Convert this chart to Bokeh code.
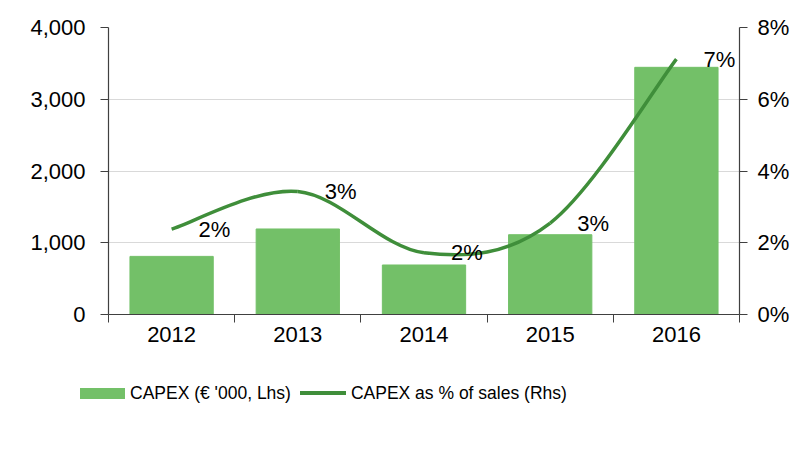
import numpy as np
from bokeh.plotting import figure
from bokeh.layouts import column
from bokeh.models import (Range1d, LinearAxis, FixedTicker, NumeralTickFormatter,
                          PrintfTickFormatter, Div)
from bokeh.core.properties import value
from bokeh.embed import file_html
from bokeh.resources import INLINE

years = [2012, 2013, 2014, 2015, 2016]
year_labels = ["2012", "2013", "2014", "2015", "2016"]
capex = [810, 1192, 690, 1112, 3445]
capex_pct = [2.38, 3.43, 1.72, 2.55, 7.12]
pct_labels = ["2%", "3%", "2%", "3%", "7%"]
left_ticks = [0, 1000, 2000, 3000, 4000]
right_ticks = [0, 2, 4, 6, 8]
series_names = ["CAPEX (€ '000, Lhs)", "CAPEX as % of sales (Rhs)"]

FONT = "Liberation Sans"
BAR = "#73C068"
LINE = "#3F8E3A"
AX = "#404040"
TICK_FS = "22px"

p = figure(width=792, height=360, output_backend="svg", toolbar_location=None,
           x_range=Range1d(years[0] - 0.5, years[-1] + 0.5),
           y_range=Range1d(0, 4000),
           min_border_left=108, min_border_right=51, min_border_top=27,
           min_border_bottom=46)
p.outline_line_color = None
p.background_fill_color = "white"
p.extra_y_ranges = {"pct": Range1d(0, 8)}

# bars
p.vbar(x=years, top=capex, width=0.66, fill_color=BAR, line_color=BAR)

# smoothed line (Catmull-Rom style Bezier through the data points)
x = np.array(years, dtype=float)
y = np.array(capex_pct, dtype=float)
xp = np.concatenate([[x[0]], x, [x[-1]]])
yp = np.concatenate([[y[0]], y, [y[-1]]])
cx0 = x[:-1] + (xp[2:-1] - xp[:-3]) / 6
cy0 = y[:-1] + (yp[2:-1] - yp[:-3]) / 6
cx1 = x[1:] - (xp[3:] - xp[1:-2]) / 6
cy1 = y[1:] - (yp[3:] - yp[1:-2]) / 6
p.bezier(x0=x[:-1], y0=y[:-1], x1=x[1:], y1=y[1:],
         cx0=cx0, cy0=cy0, cx1=cx1, cy1=cy1,
         line_color=LINE, line_width=3.5, y_range_name="pct")

# data labels
p.text(x=years, y=capex_pct, text=pct_labels, y_range_name="pct",
       x_offset=27, text_align="left", text_baseline="middle",
       text_font=value(FONT), text_font_size=TICK_FS, text_color="#000000")

# axes
p.xaxis.ticker = FixedTicker(ticks=years,
                             minor_ticks=[v - 0.5 for v in years] + [years[-1] + 0.5])
p.xaxis.major_label_overrides = {yr: lab for yr, lab in zip(years, year_labels)}
p.xaxis.major_tick_out = 0
p.xaxis.major_tick_in = 0
p.xaxis.minor_tick_out = 8
p.xaxis.minor_tick_in = 0
p.xaxis.major_label_standoff = 4

p.yaxis.ticker = FixedTicker(ticks=left_ticks)
p.yaxis.formatter = NumeralTickFormatter(format="0,0")
p.yaxis.major_tick_out = 8
p.yaxis.major_tick_in = 0
p.yaxis.minor_tick_out = 0
p.yaxis.minor_tick_in = 0
p.yaxis.major_label_standoff = 15

raxis = LinearAxis(y_range_name="pct", ticker=FixedTicker(ticks=right_ticks),
                   formatter=PrintfTickFormatter(format="%d%%"))
raxis.major_tick_out = 8
raxis.major_tick_in = 0
raxis.minor_tick_out = 0
raxis.minor_tick_in = 0
raxis.major_label_standoff = 10
p.add_layout(raxis, "right")

for ax in [p.xaxis[0], p.yaxis[0], raxis]:
    ax.axis_line_color = AX
    ax.axis_line_width = 1.2
    ax.major_tick_line_color = AX
    ax.minor_tick_line_color = AX
    ax.major_label_text_font = FONT
    ax.major_label_text_font_size = TICK_FS
    ax.major_label_text_color = "#000000"

p.xgrid.grid_line_color = None
p.ygrid.ticker = FixedTicker(ticks=left_ticks)
p.ygrid.grid_line_color = "#D9D9D9"
p.ygrid.grid_line_width = 1

# legend strip below the chart
legend_html = f"""
<div style="position:relative;width:792px;height:92px;">
  <div style="position:absolute;left:80px;top:22px;height:22px;display:flex;align-items:center;
              font-family:'{FONT}';font-size:17.5px;color:#000;white-space:nowrap;">
    <span style="display:inline-block;width:45px;height:11px;background:{BAR};"></span>
    <span style="margin-left:5px;">{series_names[0]}</span>
    <span style="display:inline-block;width:46px;height:3.5px;background:{LINE};margin-left:9px;"></span>
    <span style="margin-left:5px;">{series_names[1]}</span>
  </div>
</div>
"""
lg = Div(text=legend_html, width=792, height=92, margin=0)

layout = column(p, lg, spacing=0)
open("out.html", "w").write(file_html(layout, INLINE))
